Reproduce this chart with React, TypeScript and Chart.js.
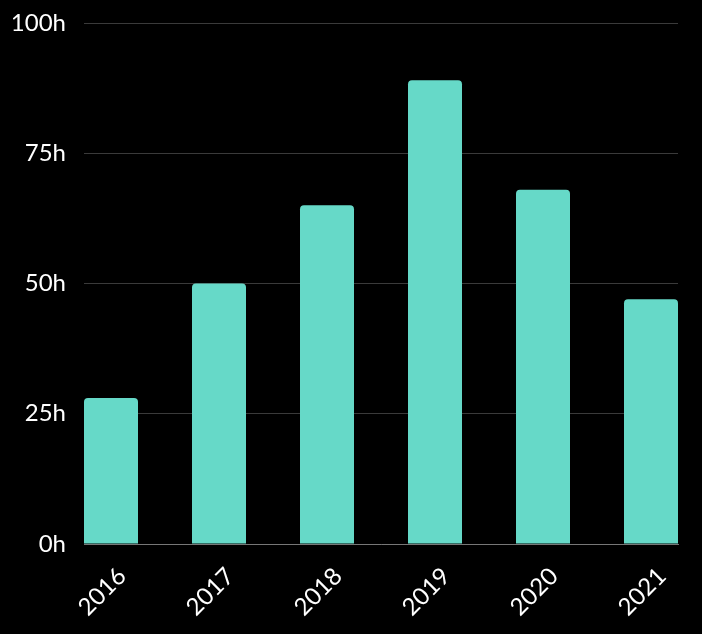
import React, { useEffect, useRef } from "react";
import { Chart, registerables } from "chart.js";

Chart.register(...registerables);

const years = ["2016", "2017", "2018", "2019", "2020", "2021"];
const hours = [28, 50, 65, 89, 68, 47];
const yTicks = [0, 25, 50, 75, 100];

export default function App() {
  const ref = useRef<HTMLCanvasElement>(null);
  useEffect(() => {
    document.body.style.margin = "0";
    document.body.style.background = "#000";
    const ctx = ref.current!;
    const chart = new Chart(ctx, {
      type: "bar",
      data: {
        datasets: [
          {
            data: hours.map((h, i) => ({ x: i, y: h })),
            backgroundColor: "#66d9c8",
            borderRadius: 4,
            borderSkipped: "bottom",
            barPercentage: 0.5,
            categoryPercentage: 1,
          },
        ],
      },
      options: {
        animation: false,
        responsive: false,
        maintainAspectRatio: false,
        layout: { padding: { left: 13, right: 24, top: 23, bottom: 0 } },
        plugins: { legend: { display: false }, tooltip: { enabled: false } },
        scales: {
          x: {
            type: "linear",
            min: -0.25,
            max: years.length - 0.75,
            offset: false,
            grid: { display: false, drawTicks: false },
            border: { display: true, color: "#777" },
            afterBuildTicks: (axis: any) => {
              axis.ticks = years.map((_, i) => ({ value: i }));
            },
            afterFit: (axis: any) => {
              axis.paddingLeft = 0;
              axis.paddingRight = 0;
              axis.height = 90;
            },
            ticks: {
              color: "#fff",
              font: { family: "Lato", size: 24 },
              maxRotation: 45,
              minRotation: 45,
              padding: 18,
              labelOffset: 11,
              autoSkip: false,
              callback: (v: any) => years[v as number] ?? "",
            },
          },
          y: {
            min: 0,
            max: 100,
            afterBuildTicks: (axis: any) => {
              axis.ticks = yTicks.map((v) => ({ value: v }));
            },
            afterFit: (axis: any) => {
              axis.paddingTop = 0;
              axis.paddingBottom = 0;
              axis.width = 71;
            },
            grid: { color: "#3a3a3a", drawTicks: false },
            border: { display: false },
            ticks: {
              color: "#fff",
              font: { family: "Lato", size: 24 },
              padding: 18,
              callback: (v: any) => v + "h",
            },
          },
        },
      },
    });
    return () => chart.destroy();
  }, []);
  return (
    <div style={{ width: 702, height: 634, background: "#000" }}>
      <canvas ref={ref} width={702} height={634} style={{ display: "block" }} />
    </div>
  );
}
